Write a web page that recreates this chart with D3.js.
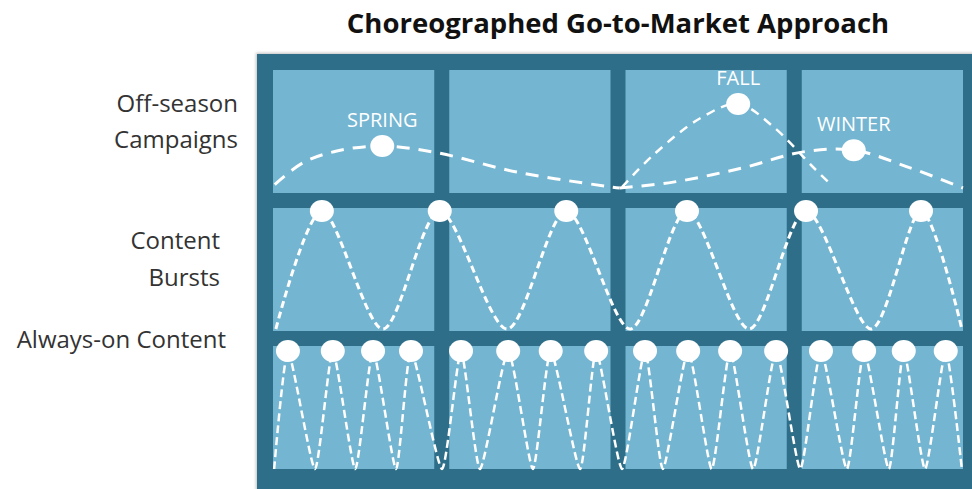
<!DOCTYPE html>
<html>
<head>
<meta charset="utf-8">
<script src="https://cdn.jsdelivr.net/npm/d3@7"></script>
<style>
  body { margin: 0; background: #fff; }
  svg { display: block; font-family: "Open Sans", sans-serif; }
  .title { font-weight: 700; font-size: 27.5px; fill: #111; }
  .row-label { font-size: 24px; fill: #333; }
  .season-label { font-size: 20px; fill: #fff; }
  .wave { fill: none; stroke: #fff; stroke-linecap: butt; }
</style>
</head>
<body>
<div id="chart-container"><svg></svg></div>
<script>
const chartSize = {width: 972, height: 489};

const seasons = ["Spring", "Summer", "Fall", "Winter"];
const rowNames = ["campaigns", "bursts", "always"];
const rowLabels = [["Off-season", "Campaigns"], ["Content", "Bursts"], ["Always-on Content"]];

// x = month of the year (0-12), y = relative intensity
const springCurve = [[0.03, 0.04], [0.52, 0.30], [1.11, 0.44], [1.90, 0.50], [2.85, 0.42], [4.24, 0.19], [5.91, 0.01], [6.03, 0]];
const fallCurve = [[6.07, 0.01], [6.61, 0.39], [7.43, 0.83], [8.09, 1.0], [8.70, 0.73], [9.39, 0.25], [9.69, 0.05]];
const winterCurve = [[6.03, 0], [6.96, 0.07], [8.17, 0.24], [9.22, 0.43], [10.10, 0.45], [11.08, 0.24], [12.0, 0]];
const campaignPeaks = [
  {label: "SPRING", month: 1.90, level: 0.50},
  {label: "FALL", month: 8.09, level: 1.0},
  {label: "WINTER", month: 10.10, level: 0.45}
];

const burstPeaks = [0.85, 2.90, 5.10, 7.20, 9.27, 11.27];
const burstTroughs = [0.05, 1.91, 4.07, 6.21, 8.28, 10.40, 11.98];

const alwaysPeaks = [0.26, 1.04, 1.74, 2.40, 3.27, 4.09, 4.83, 5.62, 6.47, 7.22, 7.95, 8.75, 9.53, 10.28, 10.97, 11.70];
const alwaysTroughs = [0.02, 0.73, 1.43, 2.14, 2.94, 3.60, 4.52, 5.34, 6.07, 6.78, 7.63, 8.35, 9.17, 9.98, 10.71, 11.34, 11.98];

const frameColor = "#2e6e89";
const cellColor = "#74b5d1";

const wavePoints = (peaks, troughs) =>
  d3.sort([...peaks.map(m => [m, 1]), ...troughs.map(m => [m, 0])], d => d[0]);

const main = () => {
  const svg = d3.select("#chart-container svg")
    .attr("width", chartSize.width)
    .attr("height", chartSize.height);

  const defs = svg.append("defs");
  defs.append("filter")
    .attr("id", "shadow")
    .attr("x", "-5%").attr("y", "-5%").attr("width", "110%").attr("height", "110%")
    .append("feDropShadow")
    .attr("dx", -1).attr("dy", -1).attr("stdDeviation", 1.5)
    .attr("flood-color", "#000").attr("flood-opacity", 0.25);

  svg.append("text")
    .attr("class", "title")
    .attr("x", 618)
    .attr("y", 33)
    .attr("text-anchor", "middle")
    .text("Choreographed Go-to-Market Approach");

  svg.append("rect")
    .attr("x", 257).attr("y", 54)
    .attr("width", chartSize.width - 257 + 10)
    .attr("height", chartSize.height - 54 + 10)
    .attr("fill", frameColor)
    .attr("filter", "url(#shadow)");

  const col = d3.scaleBand()
    .domain(seasons)
    .range([273, 963])
    .paddingInner(15 / 176);

  const row = d3.scaleBand()
    .domain(rowNames)
    .range([70, 469])
    .paddingInner(15 / 138);

  const x = d3.scaleLinear().domain([0, 12]).range([273, 963]);

  const yScales = {
    campaigns: d3.scaleLinear().domain([0, 1]).range([188, 104]),
    bursts: d3.scaleLinear().domain([0, 1]).range([329, 211]),
    always: d3.scaleLinear().domain([0, 1]).range([469, 351])
  };

  const cells = d3.cross(rowNames, seasons);
  svg.append("g")
    .selectAll("rect")
    .data(cells)
    .join("rect")
    .attr("x", d => col(d[1]))
    .attr("y", d => row(d[0]))
    .attr("width", col.bandwidth())
    .attr("height", row.bandwidth())
    .attr("fill", cellColor);

  // row labels
  const labelSpecs = [
    {lines: rowLabels[0], x: 238, y: [112, 148]},
    {lines: rowLabels[1], x: 220, y: [249, 286]},
    {lines: rowLabels[2], x: 226, y: [348]}
  ];
  labelSpecs.forEach(spec => {
    svg.append("g")
      .selectAll("text")
      .data(spec.lines)
      .join("text")
      .attr("class", "row-label")
      .attr("text-anchor", "end")
      .attr("x", spec.x)
      .attr("y", (d, i) => spec.y[i])
      .text(d => d);
  });

  const lineFor = (y, curve) => d3.line()
    .x(d => x(d[0]))
    .y(d => y(d[1]))
    .curve(curve);

  const g = svg.append("g");

  // off-season campaigns
  const campLine = lineFor(yScales.campaigns, d3.curveCatmullRom.alpha(0.5));
  g.append("path").attr("class", "wave")
    .attr("d", campLine(springCurve))
    .attr("stroke-width", 3).attr("stroke-dasharray", "13,9");
  g.append("path").attr("class", "wave")
    .attr("d", campLine(winterCurve))
    .attr("stroke-width", 3).attr("stroke-dasharray", "13,9");
  g.append("path").attr("class", "wave")
    .attr("d", campLine(fallCurve))
    .attr("stroke-width", 2.5).attr("stroke-dasharray", "9,7");

  // content bursts
  g.append("path").attr("class", "wave")
    .attr("d", lineFor(yScales.bursts, d3.curveCardinal.tension(0.15))(wavePoints(burstPeaks, burstTroughs)))
    .attr("stroke-width", 3).attr("stroke-dasharray", "7,4");

  // always-on content
  g.append("path").attr("class", "wave")
    .attr("d", lineFor(yScales.always, d3.curveCardinal.tension(0.45))(wavePoints(alwaysPeaks, alwaysTroughs)))
    .attr("stroke-width", 2.5).attr("stroke-dasharray", "8,4");

  // peak dots
  const dots = [
    ...campaignPeaks.map(p => ({cx: x(p.month), cy: yScales.campaigns(p.level)})),
    ...burstPeaks.map(m => ({cx: x(m), cy: yScales.bursts(1)})),
    ...alwaysPeaks.map(m => ({cx: x(m), cy: yScales.always(1)}))
  ];
  g.selectAll("ellipse")
    .data(dots)
    .join("ellipse")
    .attr("cx", d => d.cx)
    .attr("cy", d => d.cy)
    .attr("rx", 12)
    .attr("ry", 11)
    .attr("fill", "#fff");

  g.selectAll(".season-label")
    .data(campaignPeaks)
    .join("text")
    .attr("class", "season-label")
    .attr("text-anchor", "middle")
    .attr("x", d => x(d.month))
    .attr("y", d => yScales.campaigns(d.level) - 19)
    .text(d => d.label);
};

window.onload = main;
</script>
</body>
</html>
